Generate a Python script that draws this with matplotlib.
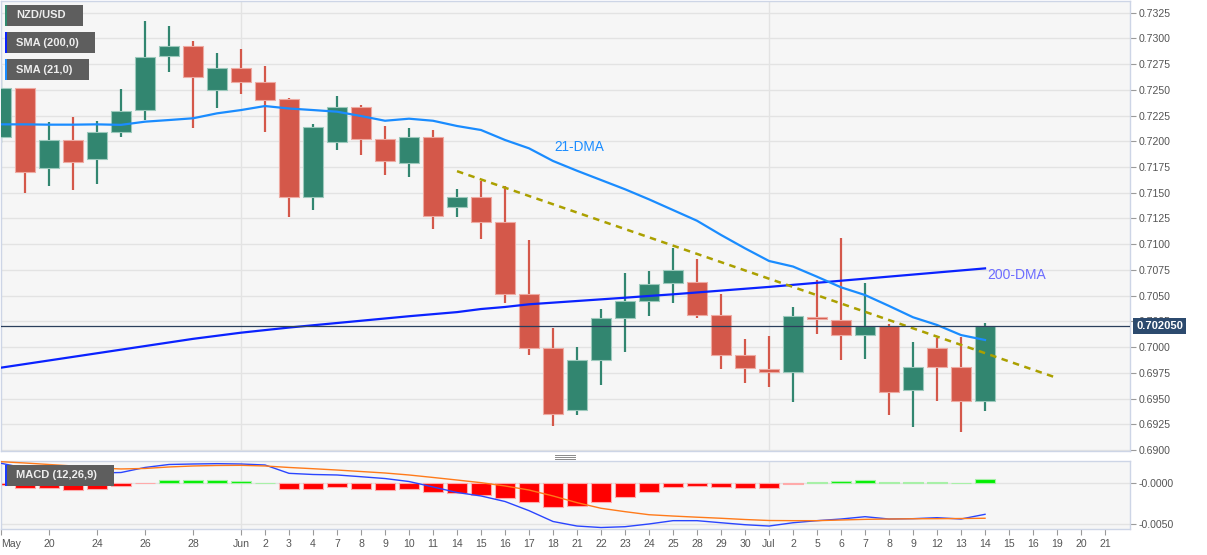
import matplotlib
matplotlib.use("Agg")
import matplotlib.pyplot as plt
import numpy as np
from matplotlib.patches import Rectangle
from matplotlib.lines import Line2D

plt.rcParams["font.family"] = ["Liberation Sans", "DejaVu Sans"]

W, H = 1207, 555

# one label per trading session (blank = no tick), May 18 .. Jul 21
x_labels = ["May", "", "20", "", "24", "", "26", "", "28", "", "Jun", "2", "3", "4",
            "7", "8", "9", "10", "11", "14", "15", "16", "17", "18", "21", "22", "23",
            "24", "25", "28", "29", "30", "Jul", "2", "5", "6", "7", "8", "9", "12",
            "13", "14", "15", "16", "19", "20", "21"]

opens = [0.7204, 0.7252, 0.7174, 0.7201, 0.71825, 0.7209, 0.7230, 0.7283, 0.7293, 0.7250,
         0.7271, 0.7258, 0.7241, 0.7146, 0.7199, 0.7233, 0.72025, 0.7179, 0.72045, 0.7136,
         0.7146, 0.7122, 0.7052, 0.6999, 0.69385, 0.69875, 0.7028, 0.7045, 0.7062, 0.7063,
         0.70315, 0.6992, 0.6979, 0.6976, 0.7029, 0.70265, 0.70118, 0.70208, 0.69583, 0.69988,
         0.6981, 0.69479]
highs = [0.7273, 0.7252, 0.7219, 0.7224, 0.7220, 0.7251, 0.7317, 0.7312, 0.72975, 0.7286,
         0.7290, 0.7273, 0.7242, 0.7217, 0.7244, 0.7235, 0.7215, 0.7213, 0.7211, 0.7154,
         0.7161, 0.7157, 0.7104, 0.7019, 0.7000, 0.7037, 0.7072, 0.7074, 0.7096, 0.7086,
         0.7052, 0.7008, 0.7011, 0.7039, 0.7065, 0.7106, 0.7062, 0.70224, 0.7005, 0.70091,
         0.70101, 0.70231]
lows = [0.7198, 0.7150, 0.7157, 0.7153, 0.7159, 0.72045, 0.7221, 0.7267, 0.7213, 0.7232,
        0.7246, 0.7209, 0.7126, 0.7133, 0.7192, 0.7187, 0.7167, 0.7165, 0.7115, 0.7126,
        0.7105, 0.7043, 0.6992, 0.6923, 0.6934, 0.6963, 0.69955, 0.7030, 0.7043, 0.70285,
        0.6979, 0.6965, 0.6961, 0.6947, 0.7013, 0.69875, 0.69884, 0.6934, 0.69226, 0.69479,
        0.69172, 0.69382]
closes = [0.7252, 0.7170, 0.7201, 0.7180, 0.7209, 0.7229, 0.7282, 0.7293, 0.7263, 0.7271,
          0.7258, 0.7240, 0.7146, 0.7214, 0.7233, 0.72025, 0.7181, 0.72045, 0.7127, 0.7146,
          0.7122, 0.7052, 0.6999, 0.6935, 0.69875, 0.7028, 0.7045, 0.7061, 0.7075, 0.70315,
          0.6992, 0.6980, 0.6976, 0.7030, 0.7027, 0.70118, 0.70208, 0.6956, 0.6981, 0.6981,
          0.69479, 0.70205]

sma21 = [0.72165, 0.72165, 0.72162, 0.72162, 0.72165, 0.7216, 0.72191, 0.72207, 0.72224,
         0.72272, 0.72304, 0.72343, 0.72319, 0.72304, 0.72288, 0.72246, 0.7220, 0.7222,
         0.7220, 0.72149, 0.7211, 0.72013, 0.71932, 0.71809, 0.71714, 0.71624, 0.71534,
         0.71436, 0.71332, 0.71228, 0.7109, 0.7096, 0.70837, 0.70783, 0.70684, 0.70581,
         0.70506, 0.704, 0.7029, 0.70215, 0.70117, 0.70069]
sma200 = [0.6980, 0.69835, 0.6987, 0.69905, 0.6994, 0.69975, 0.7001, 0.70045, 0.7008, 0.7011,
          0.7014, 0.70165, 0.7019, 0.70212, 0.70234, 0.70256, 0.70278, 0.703, 0.7032, 0.7034,
          0.7037, 0.7039, 0.70416, 0.70432, 0.70448, 0.70464, 0.7048, 0.70497, 0.70513,
          0.70531, 0.70549, 0.70567, 0.70585, 0.70605, 0.70625, 0.70645, 0.70665, 0.70685,
          0.70705, 0.70725, 0.70745, 0.70765]

# falling trend line: (session index, price)
trend_start = (19, 0.7171)
trend_end = (44, 0.6970)

macd_line = [0.00239, 0.0018, 0.00145, 0.00127, 0.00121, 0.00127, 0.00188, 0.00224, 0.0023,
             0.00234, 0.0023, 0.00218, 0.00117, 0.00103, 0.00097, 0.00076, 0.00054, 0.00018,
             -0.00048, -0.00115, -0.00157, -0.00224, -0.00335, -0.00466, -0.00521, -0.00539,
             -0.00529, -0.00496, -0.00456, -0.00456, -0.00481, -0.00505, -0.00521, -0.00481,
             -0.00456, -0.00436, -0.00408, -0.00436, -0.00432, -0.0042, -0.00436, -0.00379]
signal_line = [0.00258, 0.00242, 0.00224, 0.00206, 0.00182, 0.0017, 0.00176, 0.00194, 0.00206,
               0.00212, 0.00214, 0.00206, 0.00188, 0.00173, 0.00157, 0.00139, 0.00121, 0.00097,
               0.00067, 0.00036, 0.00004, -0.00036, -0.00085, -0.00157, -0.00238, -0.00306,
               -0.00347, -0.00384, -0.004, -0.00414, -0.00427, -0.00442, -0.00454, -0.00456,
               -0.00456, -0.00448, -0.0044, -0.00436, -0.00433, -0.00432, -0.0043, -0.00427]
macd_hist = [-0.0003, -0.0006, -0.0006, -0.0008, -0.00068, -0.0004, -0.00005, 0.00036, 0.00036,
             0.00036, 0.0003, 0.00003, -0.00068, -0.00068, -0.00052, -0.00068, -0.00088,
             -0.00072, -0.00113, -0.0012, -0.0014, -0.0018, -0.0023, -0.00295, -0.00275,
             -0.00225, -0.0017, -0.0011, -0.00052, -0.0004, -0.00048, -0.0006, -0.0006,
             -0.00016, 0.00012, 0.0002, 0.0004, 0.00012, 0.00012, 0.00012, 0.00003, 0.00045]

price_ticks = np.arange(0.6900, 0.73251, 0.0025)
macd_ticks = [-0.005, 0.0]
macd_tick_labels = ["-0.0050", "-0.0000"]

GREEN, RED = "#328670", "#d4584a"
GREEN_EDGE, RED_EDGE = "#9cc9bc", "#eeaaa2"
BG = "#f6f6f6"
SPINE = "#cdd5e6"
GRID = "#e3e3e3"
TXT = "#555555"
XLIM = (0.0, 47.04)


def frect(x0, y0, x1, y1):
    return [x0 / W, 1 - y1 / H, (x1 - x0) / W, (y1 - y0) / H]


fig = plt.figure(figsize=(W / 100, H / 100), dpi=100)
fig.patch.set_facecolor("white")

ax = fig.add_axes(frect(1, 1, 1130, 451))
axm = fig.add_axes(frect(1, 461, 1130, 529), sharex=ax)

n = len(closes)
x = np.arange(n)
xt = [i for i, s in enumerate(x_labels) if s]
month_lines = [i for i, s in enumerate(x_labels) if s in ("Jun", "Jul")]

for a in (ax, axm):
    a.set_facecolor(BG)
    for sp in a.spines.values():
        sp.set_color(SPINE)
        sp.set_linewidth(1)
    a.yaxis.tick_right()
    a.tick_params(axis="y", length=4, color="#9a9a9a", labelsize=7.6, labelcolor=TXT, pad=2)
    for m in month_lines:
        a.axvline(m, color=GRID, lw=1, zorder=0)

# price panel
ax.set_yticks(price_ticks)
ax.set_yticklabels([f"{v:.4f}" for v in price_ticks])
ax.grid(axis="y", color=GRID, lw=1, zorder=0)
ax.set_axisbelow(True)
ax.set_ylim(0.68990, 0.73364)
ax.tick_params(axis="x", bottom=False, labelbottom=False)

up = [c >= o for o, c in zip(opens, closes)]
cols = [GREEN if u else RED for u in up]
edges = [GREEN_EDGE if u else RED_EDGE for u in up]
ax.vlines(x, lows, highs, color=cols, lw=1.6, zorder=2)
body_lo = [min(o, c) for o, c in zip(opens, closes)]
body_h = [max(abs(c - o), 0.00018) for o, c in zip(opens, closes)]
ax.bar(x, body_h, bottom=body_lo, width=0.8, color=cols, edgecolor=edges, lw=0.8, zorder=3)

ax.plot(x, sma200, color="#0a22ff", lw=1.6, zorder=4)
ax.plot(x, sma21, color="#1a8cff", lw=1.6, zorder=4)
ax.plot([trend_start[0], trend_end[0]], [trend_start[1], trend_end[1]],
        color="#aba000", lw=1.8, ls=(0, (2.6, 2.2)), zorder=4)

ax.text(23.04, 0.71945, "21-DMA", color="#1a8cff", fontsize=9.8, va="center", ha="left")
ax.text(41.1, 0.70701, "200-DMA", color="#6c6cff", fontsize=10, va="center", ha="left")

last = closes[-1]
ax.axhline(last, color="#2b3f5c", lw=0.9, zorder=5)
ax.text(1.0055, last, f"{last:.6f}", transform=ax.get_yaxis_transform(),
        color="white", fontsize=8, fontweight="bold", va="center", ha="left",
        bbox=dict(boxstyle="square,pad=0.25", fc="#2c4a6e", ec="none"), zorder=6)

# MACD panel
axm.set_ylim(-0.005569, 0.002663)
axm.set_yticks(macd_ticks)
axm.set_yticklabels(macd_tick_labels)
axm.grid(axis="y", color=GRID, lw=1, zorder=0)
axm.set_axisbelow(True)
hcols = ["#00ee00" if v >= 0 else "#ff0000" for v in macd_hist]
hedges = ["#a8f0a8" if v >= 0 else "#ffaaaa" for v in macd_hist]
axm.bar(x, macd_hist, width=0.8, color=hcols, edgecolor=hedges, lw=0.8, zorder=2)
axm.plot(x, macd_line, color="#2a45ff", lw=1, zorder=3)
axm.plot(x, signal_line, color="#ff7a1a", lw=1, zorder=3)
axm.set_xticks(xt)
axm.set_xticklabels([x_labels[i] for i in xt])
axm.tick_params(axis="x", length=4, color="#9a9a9a", labelsize=7.6, labelcolor=TXT, pad=3)
axm.get_xticklabels()[0].set_horizontalalignment("left")
axm.set_xlim(*XLIM)
ax.set_xlim(*XLIM)

# legend chips
def chip(x0, y0, x1, y1, label, strip):
    fig.patches.append(Rectangle((x0 / W, 1 - y1 / H), (x1 - x0) / W, (y1 - y0) / H,
                                 transform=fig.transFigure, fc="#5e5e5e", ec="none", zorder=10))
    fig.patches.append(Rectangle((x0 / W, 1 - y1 / H), 2.2 / W, (y1 - y0) / H,
                                 transform=fig.transFigure, fc=strip, ec="none", zorder=11))
    fig.text((x0 + 11) / W, 1 - (y0 + y1) / 2 / H, label, color="#eeeeee", fontsize=8,
             fontweight="bold", va="center", ha="left", zorder=12)


chip(5, 5, 83, 26, "NZD/USD", "#2f8a6e")
chip(5, 32, 95, 53, "SMA (200,0)", "#0a22ff")
chip(5, 59, 89, 80, "SMA (21,0)", "#1a8cff")
chip(5, 465, 114, 486, "MACD (12,26,9)", "#1a3aff")

# pane resize handle
for yy in (455, 457, 459):
    fig.lines.append(Line2D([555 / W, 575 / W], [1 - yy / H, 1 - yy / H],
                            transform=fig.transFigure, color="#8a8a8a", lw=0.7))

fig.savefig("out.png", dpi=100, facecolor="white")
